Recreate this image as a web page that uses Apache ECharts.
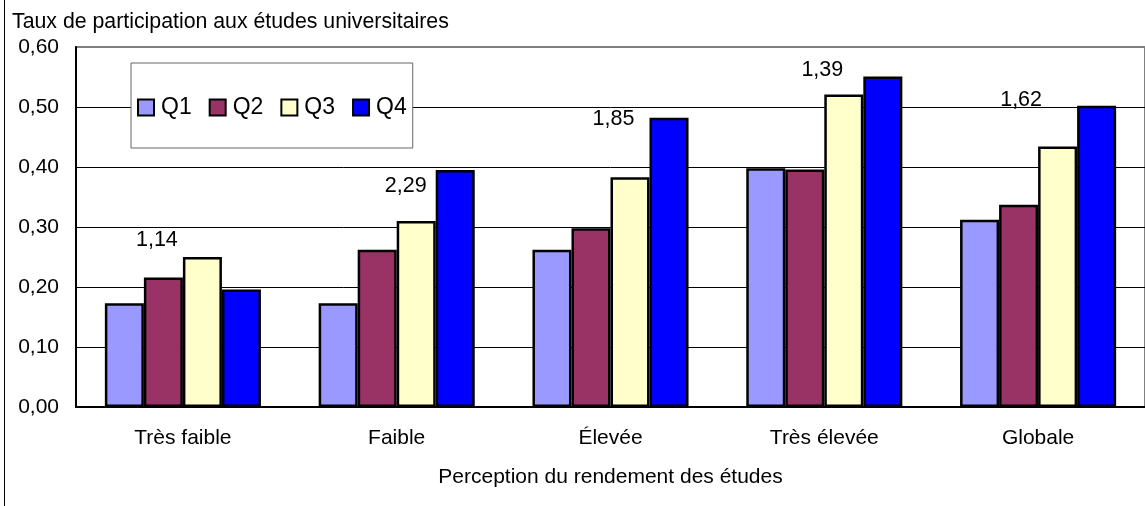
<!DOCTYPE html>
<html>
<head>
<meta charset="utf-8">
<script src="https://cdn.jsdelivr.net/npm/echarts@6/dist/echarts.min.js"></script>
<style>
  html, body { margin: 0; padding: 0; background: #fff; }
  #chart { width: 1145px; height: 506px; }
</style>
</head>
<body>
<div id="chart"></div>
<script>
// data
const categories = ['Très faible', 'Faible', 'Élevée', 'Très élevée', 'Globale'];
const q1 = [0.173, 0.173, 0.262, 0.398, 0.312];
const q2 = [0.216, 0.262, 0.298, 0.396, 0.337];
const q3 = [0.250, 0.310, 0.383, 0.521, 0.434];
const q4 = [0.196, 0.395, 0.482, 0.551, 0.502];
const ratios = [1.14, 2.29, 1.85, 1.39, 1.62];

// where the ratio notes sit: [x shift in px, height in axis units]
const ratioPlace = [[-26, 0.278], [9, 0.368], [3, 0.48], [-2, 0.562], [-17, 0.512]];

const FONT = 'Liberation Sans, Arial, sans-serif';
const frFmt = v => v.toFixed(2).replace('.', ',');

const chart = echarts.init(document.getElementById('chart'), null, { renderer: 'canvas' });

const barSeries = (name, data, color) => ({
  name: name,
  type: 'bar',
  data: data,
  barGap: '0%',
  barCategoryGap: '27%',
  itemStyle: { color: color, borderColor: '#000', borderWidth: 2.5 }
});

chart.setOption({
  animation: false,
  textStyle: { fontFamily: FONT, color: '#000' },
  title: {
    text: 'Taux de participation aux études universitaires',
    left: 12, top: 12, padding: 0,
    textStyle: { fontFamily: FONT, fontSize: 21.3, fontWeight: 'normal', color: '#000' }
  },
  grid: {
    left: 76, top: 47, width: 1073, height: 360,
    show: true, borderColor: '#808080', borderWidth: 2, backgroundColor: 'transparent'
  },
  legend: {
    data: ['Q1', 'Q2', 'Q3', 'Q4'],
    left: 131, top: 63,
    padding: [33, 6, 29, 6],
    itemWidth: 16, itemHeight: 16, itemGap: 17,
    icon: 'rect',
    backgroundColor: '#fff',
    borderColor: '#666', borderWidth: 1,
    textStyle: { fontFamily: FONT, fontSize: 23, color: '#000', padding: [0, 0, 0, 2] }
  },
  xAxis: {
    type: 'category',
    data: categories,
    name: 'Perception du rendement des études',
    nameLocation: 'middle',
    nameGap: 60,
    nameTextStyle: { fontFamily: FONT, fontSize: 21, color: '#000' },
    axisLine: { lineStyle: { color: '#000', width: 2 } },
    axisTick: { inside: true, length: 5, lineStyle: { color: '#000' } },
    axisLabel: { fontFamily: FONT, fontSize: 21, color: '#000', margin: 21 }
  },
  yAxis: {
    type: 'value',
    min: 0, max: 0.6, interval: 0.1,
    axisLine: { show: true, lineStyle: { color: '#000', width: 2 } },
    axisTick: { show: false },
    axisLabel: { fontFamily: FONT, fontSize: 21, color: '#000', margin: 17, formatter: frFmt },
    splitLine: {
      lineStyle: { color: ['#000', '#000', '#000', '#000', '#000', '#000', '#808080'], width: 1 }
    }
  },
  graphic: [{
    type: 'line',
    shape: { x1: 4.5, y1: 0, x2: 4.5, y2: 506 },
    style: { stroke: '#000', lineWidth: 1 }
  }],
  series: [
    barSeries('Q1', q1, '#9999FF'),
    barSeries('Q2', q2, '#993366'),
    barSeries('Q3', q3, '#FFFFCC'),
    barSeries('Q4', q4, '#0000FF'),
    {
      name: 'ratio',
      type: 'scatter',
      symbolSize: 0,
      silent: true,
      itemStyle: { color: '#000', opacity: 1 },
      data: ratios.map((r, i) => ({
        value: [categories[i], ratioPlace[i][1]],
        label: { offset: [ratioPlace[i][0], 0] }
      })),
      label: {
        show: true,
        position: 'inside',
        fontFamily: FONT, fontSize: 21.5, color: '#000',
        textBorderWidth: 0,
        formatter: p => frFmt(ratios[p.dataIndex])
      }
    }
  ]
});
</script>
</body>
</html>
